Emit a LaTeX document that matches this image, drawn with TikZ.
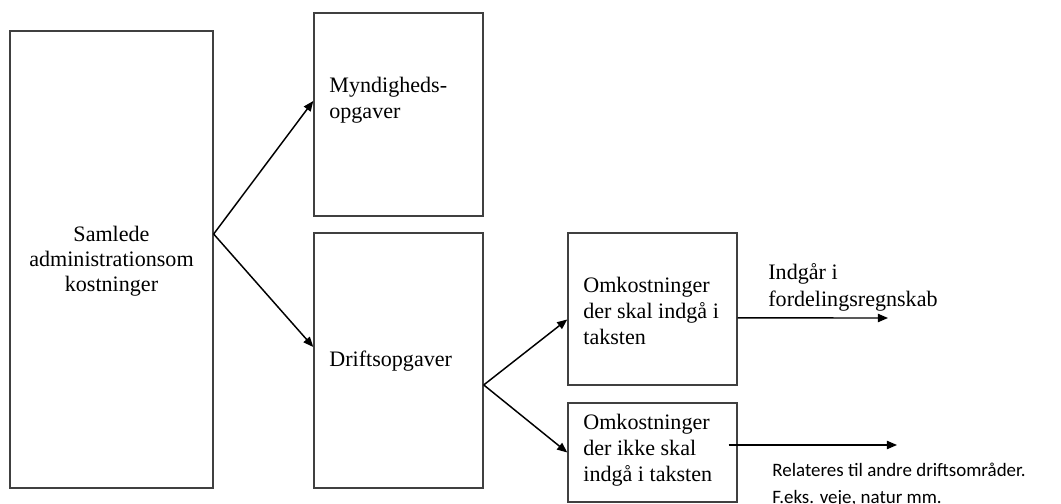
\documentclass[tikz,border=0pt]{standalone}
\usepackage{fontspec}
\setmainfont{Liberation Serif}
\newfontfamily\calibrifont{Carlito}
\usetikzlibrary{positioning}
\usetikzlibrary{arrows.meta}
\tikzset{
    boxn/.style = {rectangle, draw=black!75, line width=0.75pt, inner sep=0pt},
    txtn/.style = {align=left, anchor=west, inner sep=0pt, font=\fontsize{12}{14.2}\selectfont},
    txtc/.style = {align=center, inner sep=0pt, font=\fontsize{12}{13.7}\selectfont},
    txtb/.style = {align=left, anchor=west, inner sep=0pt, font=\calibrifont\fontsize{10.3}{14.7}\selectfont},
    edgea/.style = {-{Triangle[length=5.5pt,width=4.5pt]}, line width=0.8pt, black}
}
\begin{document}
\begin{tikzpicture}[x=0.5435pt, y=-0.5435pt]
  \useasboundingbox (0,0) rectangle (1061,504);
  % boxes
  \node[boxn, minimum width=110.3pt, minimum height=248.4pt] (samlede) at (111.5,259.5) {};
  \node[boxn, minimum width=91.9pt, minimum height=110.3pt] (myn) at (398.5,114.5) {};
  \node[boxn, minimum width=91.9pt, minimum height=138.6pt] (drift) at (398.5,360.5) {};
  \node[boxn, minimum width=91.9pt, minimum height=82.6pt] (omk1) at (652.5,309) {};
  \node[boxn, minimum width=91.9pt, minimum height=53.8pt] (omk2) at (652.5,452.5) {};
  % texts
  \node[txtc] (samledet) at (111.5,261.5) {Samlede\\administrationsom\\kostninger};
  \node[txtn] (mynt) at (329,100) {Myndigheds-\\opgaver};
  \node[txtn] (driftt) at (329,361) {Driftsopgaver};
  \node[txtn] (omk1t) at (583,311) {Omkostninger\\der skal indgå i\\taksten};
  \node[txtn] (omk2t) at (583,450.5) {Omkostninger\\der ikke skal\\indgå i taksten};
  \node[txtn, font=\fontsize{12}{14.7}\selectfont] (indt) at (768,287) {Indgår i\\fordelingsregnskab};
  \node[txtb] (relt) at (772,485) {Relateres til andre driftsområder.\\F.eks. veje, natur mm.};
  % arrows
  \coordinate (fordel) at (888,318);
  \coordinate (andre) at (897,445);
  \draw[edgea] (samlede.14.6) -- (myn.171);
  \draw[edgea] (samlede.14.6) -- (drift.171.5);
  \draw[edgea] (drift.-16.2) -- (omk1.187.5);
  \draw[edgea] (drift.-16.2) -- (omk2.west);
  \draw[edgea] (omk1.-6) -- (fordel);
  \draw[edgea] ([shift={(-9,-7.5)}]omk2.east) -- (andre);
\end{tikzpicture}
\end{document}
